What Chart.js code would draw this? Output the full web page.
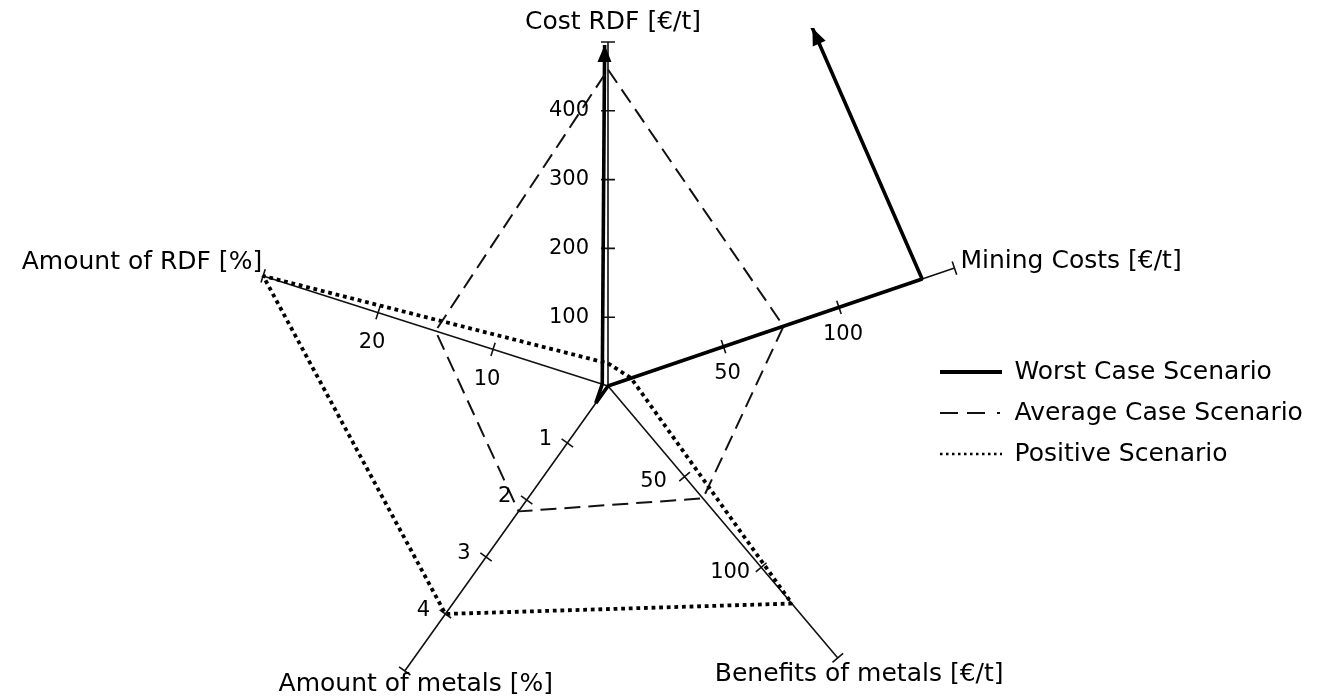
<!DOCTYPE html>
<html>
<head>
<meta charset="utf-8">
<title>Scenarios</title>
<script src="https://cdn.jsdelivr.net/npm/chart.js@4/dist/chart.umd.min.js"></script>
<style>
  html, body { margin: 0; padding: 0; background: #fff; }
  #wrap { width: 1335px; height: 700px; position: relative; }
</style>
</head>
<body>
<div id="wrap"><canvas id="scenarios"></canvas></div>
<script>
"use strict";

// axes, clockwise from the top
const categories = ['Cost RDF [€/t]', 'Mining Costs [€/t]', 'Benefits of metals [€/t]', 'Amount of metals [%]', 'Amount of RDF [%]'];
const axisMax = [500, 150, 150, 5, 30];

const costTicks = [100, 200, 300, 400];
const miningTicks = [50, 100];
const benefitTicks = [50, 100];
const metalTicks = [1, 2, 3, 4];
const rdfTicks = [10, 20];

const seriesNames = ['Worst Case Scenario', 'Average Case Scenario', 'Positive Scenario'];

// one value per axis; worst case cost of RDF is off the scale (arrows)
const worstCase = [1200, 136, 0, 0.3, 0.5];
const averageCase = [460, 76, 62, 2.2, 15];
const positiveCase = [33, 10, 120, 4, 30];

const axisTicks = [costTicks, miningTicks, benefitTicks, metalTicks, rdfTicks];

// geometry of the (not regular) star: angle in degrees, length in px
const axisAngle = [90, 18.8, -49.8, -125.5, 162.3];
const axisLength = [344, 366, 356, 350, 362];
const WIDTH = 1335;
const CENTER = { x: 608, y: 386 };
const AREA = { left: 0, top: 126, right: 924, bottom: 700 };
const FONT = 'DejaVu Sans';
const LEGEND = { size: 25, padding: 16, sample: 62 };

const tickLabelOffset = [
  { dx: -19, dy: 0, align: 'right' },
  { dx: 4, dy: 27, align: 'center' },
  { dx: -31, dy: 5, align: 'center' },
  { dx: -22, dy: -3, align: 'center' },
  { dx: -6, dy: 30, align: 'center' },
];
const titleOffset = [
  { dx: 5, dy: -20, align: 'center' },
  { dx: 6, dy: -7, align: 'left' },
  { dx: -123, dy: 17, align: 'left' },
  { dx: 11, dy: 14, align: 'center' },
  { dx: -1, dy: -13, align: 'right' },
];

const GAP = { x: NaN, y: NaN };

function direction(i) {
  const rad = axisAngle[i] * Math.PI / 180;
  return { x: Math.cos(rad), y: Math.sin(rad) };
}

function project(i, value) {
  const d = direction(i);
  const r = axisLength[i] * value / axisMax[i];
  return { x: d.x * r, y: d.y * r };
}

function polygon(values) {
  const pts = values.map((v, i) => project(i, v));
  pts.push(pts[0]);
  return pts;
}

function axisFrame() {
  const pts = [];
  categories.forEach((_, i) => {
    pts.push(project(i, 0), project(i, axisMax[i]), GAP);
    const d = direction(i);
    axisTicks[i].concat(axisMax[i]).forEach(v => {
      const p = project(i, v);
      pts.push({ x: p.x + d.y * 7, y: p.y - d.x * 7 }, { x: p.x - d.y * 7, y: p.y + d.x * 7 }, GAP);
    });
  });
  return pts;
}

// same sum the legend uses when it fits itself, so that it starts at AREA.right
function legendWidth() {
  const ctx = document.createElement('canvas').getContext('2d');
  ctx.font = LEGEND.size + 'px ' + FONT;
  const text = Math.max(...seriesNames.map(s => ctx.measureText(s).width));
  return LEGEND.padding + LEGEND.sample + LEGEND.size / 2 + text + 10;
}

const worstPts = polygon(worstCase);

const axisLabels = {
  id: 'axisLabels',
  afterDatasetsDraw(chart) {
    const { ctx, scales: { x, y } } = chart;
    ctx.save();
    ctx.fillStyle = '#000';
    ctx.textBaseline = 'middle';
    categories.forEach((name, i) => {
      ctx.font = '21px "' + FONT + '"';
      axisTicks[i].forEach(t => {
        const p = project(i, t);
        const o = tickLabelOffset[i];
        ctx.textAlign = o.align;
        ctx.fillText(String(t), x.getPixelForValue(p.x) + o.dx, y.getPixelForValue(p.y) + o.dy);
      });
      const e = project(i, axisMax[i]);
      const o = titleOffset[i];
      ctx.font = '25px "' + FONT + '"';
      ctx.textAlign = o.align;
      ctx.fillText(name, x.getPixelForValue(e.x) + o.dx, y.getPixelForValue(e.y) + o.dy);
    });
    ctx.restore();
  }
};

// arrow heads where the off-scale line leaves its clip box
const arrowHeads = {
  id: 'arrowHeads',
  afterDatasetsDraw(chart) {
    const { ctx, chartArea } = chart;
    chart.data.datasets.forEach((ds, i) => {
      if (!ds.arrowHead) return;
      const limit = chartArea.top - ds.clip.top;
      const pts = chart.getDatasetMeta(i).data;
      for (let k = 1; k < pts.length; k++) {
        let a = pts[k - 1], b = pts[k];
        if ((a.y < limit) === (b.y < limit)) continue;
        if (a.y < limit) [a, b] = [b, a];
        const t = (a.y - limit) / (a.y - b.y);
        const tx = a.x + (b.x - a.x) * t;
        const len = Math.hypot(b.x - a.x, b.y - a.y);
        const ux = (b.x - a.x) / len, uy = (b.y - a.y) / len;
        ctx.save();
        ctx.fillStyle = ds.borderColor;
        ctx.beginPath();
        ctx.moveTo(tx, limit);
        ctx.lineTo(tx - ux * 17 - uy * 7, limit - uy * 17 + ux * 7);
        ctx.lineTo(tx - ux * 17 + uy * 7, limit - uy * 17 - ux * 7);
        ctx.closePath();
        ctx.fill();
        ctx.restore();
      }
    });
  }
};

const line = {
  showLine: true,
  pointRadius: 0,
  pointHoverRadius: 0,
  fill: false,
  borderJoinStyle: 'bevel',
};

new Chart(document.getElementById('scenarios'), {
  type: 'scatter',
  data: {
    datasets: [
      {
        ...line, label: seriesNames[0], data: worstPts.slice(0, 5),
        borderColor: '#000', borderWidth: 3.6, arrowHead: true,
        clip: { left: false, right: false, bottom: false, top: 98 },
        legendDash: [], legendWidth: 4,
      },
      {
        ...line, label: seriesNames[1], data: polygon(averageCase),
        borderColor: '#111', borderWidth: 2, borderDash: [16, 8], clip: false,
        legendDash: [18, 9, 18, 12, 3, 9], legendWidth: 2,
      },
      {
        ...line, label: seriesNames[2], data: polygon(positiveCase),
        borderColor: '#000', borderWidth: 3.8, borderDash: [3.8, 3.8], clip: false,
        legendDash: [2.5, 3.5], legendWidth: 2.5,
      },
      {
        ...line, label: 'worst tail', data: worstPts.slice(4, 6),
        borderColor: '#000', borderWidth: 3.6, arrowHead: true, skipLegend: true,
        clip: { left: false, right: false, bottom: false, top: 81 },
      },
      {
        ...line, label: 'axes', data: axisFrame(), spanGaps: false,
        borderColor: '#111', borderWidth: 1.6, skipLegend: true, clip: false,
      },
    ]
  },
  options: {
    responsive: true,
    maintainAspectRatio: false,
    devicePixelRatio: 1,
    animation: false,
    events: [],
    layout: {
      padding: { left: AREA.left, top: AREA.top, right: WIDTH - AREA.right - legendWidth(), bottom: 0 }
    },
    scales: {
      x: { type: 'linear', display: false, min: AREA.left - CENTER.x, max: AREA.right - CENTER.x },
      y: { type: 'linear', display: false, min: CENTER.y - AREA.bottom, max: CENTER.y - AREA.top },
    },
    plugins: {
      tooltip: { enabled: false },
      legend: {
        position: 'right',
        align: 'center',
        labels: {
          font: { family: FONT, size: LEGEND.size },
          color: '#000',
          padding: LEGEND.padding,
          usePointStyle: true,
          pointStyle: 'line',
          pointStyleWidth: LEGEND.sample,
          generateLabels(chart) {
            return chart.data.datasets
              .map((ds, i) => ({
                text: ds.label,
                strokeStyle: ds.borderColor,
                fillStyle: ds.borderColor,
                fontColor: '#000',
                lineWidth: ds.legendWidth,
                lineDash: ds.legendDash,
                lineCap: 'butt',
                pointStyle: 'line',
                hidden: false,
                datasetIndex: i,
                skip: ds.skipLegend,
              }))
              .filter(item => !item.skip);
          }
        }
      }
    }
  },
  plugins: [axisLabels, arrowHeads],
});
</script>
</body>
</html>
